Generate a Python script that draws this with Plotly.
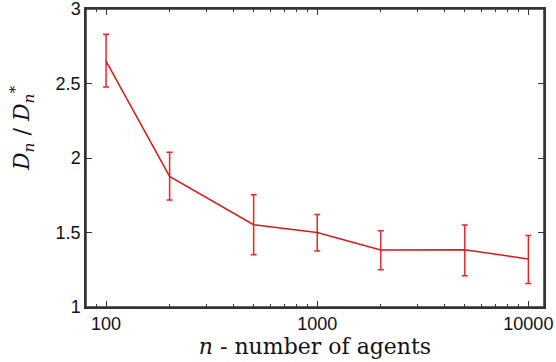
import plotly.graph_objects as go

n_agents = [100, 200, 500, 1000, 2000, 5000, 10000]
ratio = [2.65, 1.876, 1.552, 1.50, 1.383, 1.385, 1.322]
err_upper = [2.83, 2.038, 1.754, 1.621, 1.512, 1.55, 1.48]
err_lower = [2.476, 1.718, 1.351, 1.376, 1.250, 1.21, 1.158]

x_tickvals = [100, 1000, 10000]
x_ticktext = ["100", "1000", "10000"]
y_tickvals = [1, 1.5, 2, 2.5, 3]
y_ticktext = ["1", "1.5", "2", "2.5", "3"]

plus = [u - v for u, v in zip(err_upper, ratio)]
minus = [v - l for v, l in zip(ratio, err_lower)]

minor_x = [m * 10 ** e for e in (1, 2, 3) for m in range(2, 10)] + [20000]

fig = go.Figure()
fig.add_trace(go.Scatter(
    x=n_agents, y=ratio, mode="lines",
    line=dict(color="#d41a1a", width=1.5),
    error_y=dict(type="data", symmetric=False, array=plus, arrayminus=minus,
                 color="#e02a2a", thickness=1.5, width=3),
    showlegend=False,
))

axis_common = dict(showline=True, linecolor="#333333", linewidth=1.5, mirror="ticks",
                   ticks="inside", tickcolor="#333333", tickwidth=1, showgrid=False,
                   zeroline=False, automargin=False, ticklabeloverflow="allow",
                   tickfont=dict(family="Liberation Sans, Arial", size=18, color="#111"))

fig.update_layout(
    width=556, height=362,
    margin=dict(l=86, r=12, t=9, b=55),
    paper_bgcolor="white", plot_bgcolor="white",
    xaxis=dict(type="log", range=[1.905, 4.074], tickvals=x_tickvals, ticktext=x_ticktext,
               ticklen=6,
               minor=dict(tickvals=minor_x, ticks="inside", ticklen=3, tickcolor="#333333", showgrid=False),
               title=dict(text="<i>n</i> - number of agents", standoff=2,
                          font=dict(family="DejaVu Serif, Liberation Serif", size=22, color="#111")),
               **axis_common),
    yaxis=dict(range=[1, 3], tickvals=y_tickvals, ticktext=y_ticktext, ticklen=6,
               **axis_common),
    shapes=[dict(type="rect", xref="paper", yref="paper", x0=0, x1=1, y0=0, y1=1,
                 line=dict(color="#333333", width=1.5), fillcolor="rgba(0,0,0,0)", layer="above")],
    annotations=[dict(
        text="<i>D<sub>n</sub></i> / <i>D<sub>n</sub></i><sup>*</sup>",
        xref="paper", yref="paper", x=-0.14, y=0.60, textangle=-90,
        showarrow=False, xanchor="center", yanchor="middle",
        font=dict(family="DejaVu Serif, Liberation Serif", size=22, color="#111"),
    )],
)

fig.write_html("out.html", config={"displayModeBar": False},
               post_script="document.body.style.margin='0';")
